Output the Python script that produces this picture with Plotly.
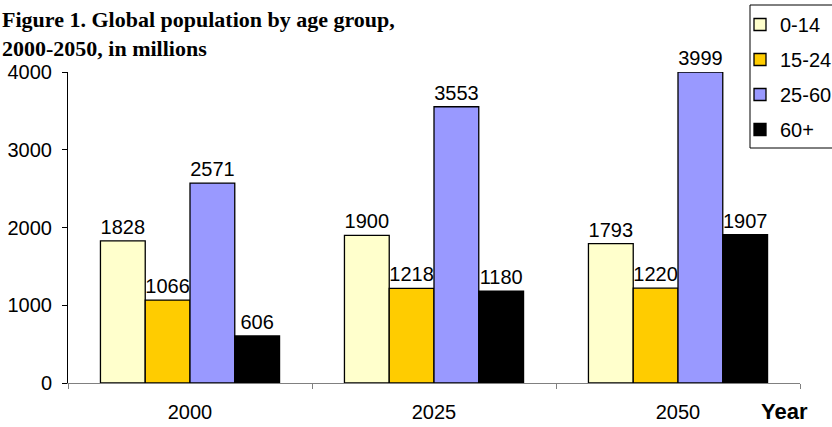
import plotly.graph_objects as go

years = ["2000", "2025", "2050"]
series_names = ["0-14", "15-24", "25-60", "60+"]
v_0_14 = [1828, 1900, 1793]
v_15_24 = [1066, 1218, 1220]
v_25_60 = [2571, 3553, 3999]
v_60_plus = [606, 1180, 1907]
colors = ["#FFFFCC", "#FFCC00", "#9999FF", "#000000"]
y_ticks = [0, 1000, 2000, 3000, 4000]

FONT = "Arial, Liberation Sans, sans-serif"

fig = go.Figure()
for i, (name, vals) in enumerate(zip(series_names, [v_0_14, v_15_24, v_25_60, v_60_plus])):
    fig.add_trace(go.Bar(
        x=years, y=vals, name=name,
        marker=dict(color=colors[i], line=dict(color="black", width=1.3)),
        text=vals, texttemplate="%{y}", textposition="outside",
        constraintext="none", cliponaxis=False,
        textfont=dict(family=FONT, size=20, color="black"),
        legendgroup=name,
    ))

fig.update_layout(
    width=832, height=427,
    margin=dict(l=68, r=32, t=72, b=44, autoexpand=False),
    paper_bgcolor="white", plot_bgcolor="white",
    barmode="group", bargap=0.266, bargroupgap=0,
    legend=dict(
        xref="container", yref="container",
        x=740 / 832, xanchor="left", y=1 - 5 / 427, yanchor="top",
        borderwidth=0, bgcolor="rgba(0,0,0,0)",
        font=dict(family=FONT, size=20, color="black"),
        traceorder="grouped", tracegroupgap=6,
        itemwidth=30,
    ),
    showlegend=True,
    font=dict(family=FONT, color="black"),
)
# legend frame (right side runs off the canvas as in the reference)
fig.add_shape(
    type="rect", xref="paper", yref="paper",
    x0=(750 - 68) / 732, x1=(845 - 68) / 732,
    y0=(383 - 148) / 311, y1=(383 - 5) / 311,
    line=dict(color="black", width=1), fillcolor="rgba(0,0,0,0)", layer="above",
)
fig.update_xaxes(
    showline=True, linecolor="#808080", linewidth=1,
    ticks="outside", tickson="boundaries", ticklen=5, tickcolor="#808080",
    tickfont=dict(family=FONT, size=20, color="black"),
    ticklabelstandoff=11,
)
fig.update_yaxes(
    range=[0, 4000], tickvals=y_ticks, showgrid=False, zeroline=False,
    showline=True, linecolor="black", linewidth=1,
    ticks="outside", ticklen=5, tickcolor="black",
    tickfont=dict(family=FONT, size=20, color="black"),
    ticklabelstandoff=6,
)
fig.add_annotation(
    text="<b>Figure 1. Global population by age group,<br>2000-2050, in millions</b>",
    xref="paper", yref="paper", x=-68 / 732, y=1 + (72 - 5) / 311,
    xanchor="left", yanchor="top", align="left", showarrow=False,
    font=dict(family="Times New Roman, Liberation Serif, serif", size=22, color="black"),
)
fig.add_annotation(
    text="<b>Year</b>", xref="paper", yref="paper", x=0.9795, y=-0.0932,
    xanchor="center", yanchor="middle", showarrow=False,
    font=dict(family=FONT, size=22, color="black"),
)
fig.write_html(
    "out.html",
    config={"displayModeBar": False},
    post_script="document.body.style.margin='0';document.body.style.padding='0';",
)
